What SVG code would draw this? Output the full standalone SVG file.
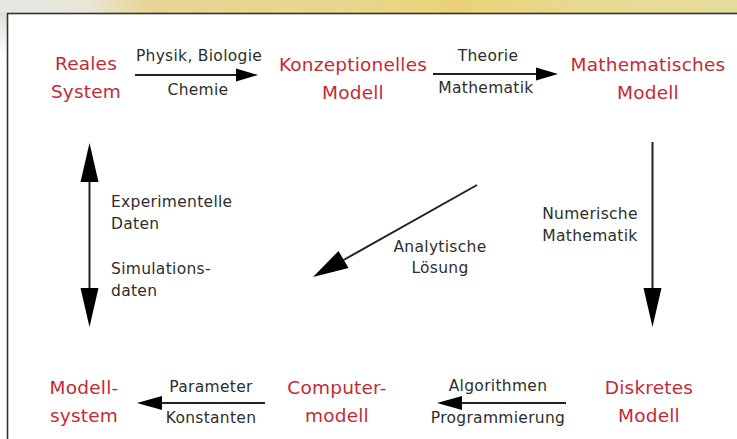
<svg xmlns="http://www.w3.org/2000/svg" width="737" height="439" viewBox="0 0 737 439">
  <defs>
    <linearGradient id="topg" x1="0" y1="0" x2="1" y2="0">
      <stop offset="0" stop-color="#e4e7e3"/>
      <stop offset="0.12" stop-color="#e9e6d6"/>
      <stop offset="0.2" stop-color="#e6d595"/>
      <stop offset="0.45" stop-color="#e8d88e"/>
      <stop offset="0.62" stop-color="#ead277"/>
      <stop offset="0.8" stop-color="#e8da93"/>
      <stop offset="1" stop-color="#e5dc9c"/>
    </linearGradient>
    <linearGradient id="leftg" x1="0" y1="0" x2="0" y2="1">
      <stop offset="0" stop-color="#dcdfd8"/>
      <stop offset="1" stop-color="#ffffff"/>
    </linearGradient>
    <style>
      .node { font-family: "DejaVu Sans", "Liberation Sans", sans-serif; font-size: 18.5px; letter-spacing: 0.2px; fill: #c42a35; text-anchor: middle; }
      .lbl { font-family: "DejaVu Sans", "Liberation Sans", sans-serif; font-size: 15.5px; letter-spacing: 0.3px; fill: #2e2e2e; }
      .mid { text-anchor: middle; }
      .line { stroke: #222222; stroke-width: 2; fill: none; }
      .head { fill: #000000; }
    </style>
  </defs>

  <rect x="0" y="0" width="737" height="439" fill="#ffffff"/>
  <rect x="0" y="0" width="737" height="14" fill="url(#topg)"/>
  <rect x="0" y="13" width="8" height="45" fill="url(#leftg)"/>
  <rect x="7.5" y="13.5" width="740" height="440" fill="#ffffff" stroke="#333333" stroke-width="1.6"/>

  <g id="connectors">
    <!-- Reales System -> Konzeptionelles Modell -->
    <line class="line" x1="135" y1="75" x2="240" y2="75"/>
    <polygon class="head" points="258,75 236,68.5 236,81.5"/>
    <!-- Konzeptionelles -> Mathematisches -->
    <line class="line" x1="433" y1="74" x2="540" y2="74"/>
    <polygon class="head" points="558,74 536,67.5 536,80.5"/>
    <!-- Mathematisches -> Diskretes -->
    <line class="line" x1="652.5" y1="142" x2="652.5" y2="295"/>
    <polygon class="head" points="652.5,327 643.5,288 661.5,288"/>
    <!-- Analytische Loesung -->
    <line class="line" x1="477" y1="185" x2="340" y2="262"/>
    <polygon class="head" points="313,277 338.5,251 348.5,268"/>
    <!-- Double arrow left -->
    <line class="line" x1="89.5" y1="170" x2="89.5" y2="300"/>
    <polygon class="head" points="89.5,143 80.5,182 98.5,182"/>
    <polygon class="head" points="89.5,327 80.5,288 98.5,288"/>
    <!-- Computermodell -> Modellsystem -->
    <line class="line" x1="265" y1="403" x2="155" y2="403"/>
    <polygon class="head" points="137,403 162,396 162,410"/>
    <!-- Diskretes -> Computermodell -->
    <line class="line" x1="566" y1="403" x2="455" y2="403"/>
    <polygon class="head" points="437,403 462,396 462,410"/>
  </g>

  <g id="edge-labels">
    <text class="lbl mid" x="199" y="61">Physik, Biologie</text>
    <text class="lbl mid" x="198" y="95">Chemie</text>
    <text class="lbl mid" x="488" y="61">Theorie</text>
    <text class="lbl mid" x="486" y="93">Mathematik</text>
    <text class="lbl mid" x="590" y="219">Numerische</text>
    <text class="lbl mid" x="590" y="241">Mathematik</text>
    <text class="lbl mid" x="440" y="252">Analytische</text>
    <text class="lbl mid" x="440" y="273">Lösung</text>
    <text class="lbl" x="111" y="207">Experimentelle</text>
    <text class="lbl" x="111" y="229">Daten</text>
    <text class="lbl" x="111" y="274">Simulations-</text>
    <text class="lbl" x="111" y="296">daten</text>
    <text class="lbl mid" x="211" y="392">Parameter</text>
    <text class="lbl mid" x="211" y="423">Konstanten</text>
    <text class="lbl mid" x="498" y="391">Algorithmen</text>
    <text class="lbl mid" x="498" y="423">Programmierung</text>
  </g>

  <g id="reales-system">
    <text class="node" x="86" y="70">Reales</text>
    <text class="node" x="86" y="98">System</text>
  </g>
  <g id="konzeptionelles-modell">
    <text class="node" x="353" y="71">Konzeptionelles</text>
    <text class="node" x="353" y="99">Modell</text>
  </g>
  <g id="mathematisches-modell">
    <text class="node" x="648" y="71">Mathematisches</text>
    <text class="node" x="648" y="99">Modell</text>
  </g>
  <g id="diskretes-modell">
    <text class="node" x="649" y="394">Diskretes</text>
    <text class="node" x="649" y="422">Modell</text>
  </g>
  <g id="computermodell">
    <text class="node" x="337" y="394">Computer-</text>
    <text class="node" x="337" y="422">modell</text>
  </g>
  <g id="modellsystem">
    <text class="node" x="84" y="394">Modell-</text>
    <text class="node" x="84" y="422">system</text>
  </g>
</svg>
